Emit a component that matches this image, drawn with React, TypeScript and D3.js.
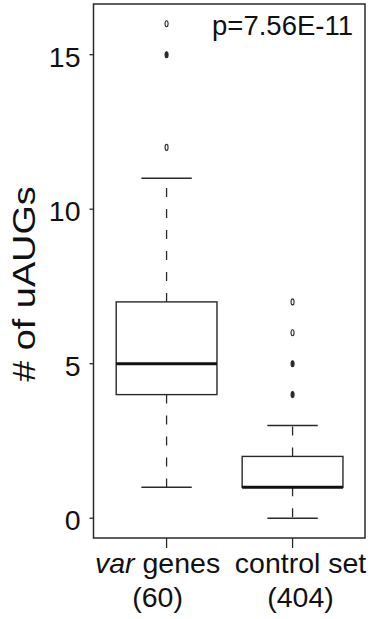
import React from 'react';
import * as d3 from 'd3';

// box statistics
const categories = ['var genes', 'control set'];
const sampleSizes = [60, 404];
const lowerWhisker = [1, 0];
const q1 = [4, 1];
const median = [5, 1];
const q3 = [7, 2];
const upperWhisker = [11, 3];
// repeated values = overlapping points (drawn darker)
const varOutliers = [12, 15, 15, 16];
const controlOutliers = [4, 4, 4, 5, 5, 6, 7];
const yTicks = [0, 5, 10, 15];
const pValue = 'p=7.56E-11';

const W = 371;
const H = 619;
const left = 93.5;
const right = 365;
const top = 4;
const bottom = 538;
const font = '"Liberation Sans", Arial, sans-serif';
const ink = '#2a2a2a';

const App = () => {
  const y = d3.scaleLinear().domain([-0.64, 16.64]).range([bottom, top]);
  const x = d3.scaleLinear().domain([0.42, 2.575]).range([left, right]);
  const boxWex = 0.8;
  const outliers = [varOutliers, controlOutliers];
  const labelShift = [-9, 8];

  return (
    <svg width={W} height={H} style={{ position: 'absolute', left: 0, top: 0, background: '#fff' }}>
      {categories.map((c, i) => {
        const cx = x(i + 1);
        const bx0 = x(i + 1 - boxWex / 2);
        const bx1 = x(i + 1 + boxWex / 2);
        const sx0 = x(i + 1 - boxWex / 4);
        const sx1 = x(i + 1 + boxWex / 4);
        const counts = d3.rollups(outliers[i], (v) => v.length, (d) => d);
        return (
          <g key={c}>
            {/* whiskers */}
            <line x1={cx} x2={cx} y1={y(q3[i])} y2={y(upperWhisker[i])} stroke={ink} strokeWidth={1.3} strokeDasharray="9,12" />
            <line x1={cx} x2={cx} y1={y(q1[i])} y2={y(lowerWhisker[i])} stroke={ink} strokeWidth={1.3} strokeDasharray="9,12" />
            <line x1={sx0} x2={sx1} y1={y(upperWhisker[i])} y2={y(upperWhisker[i])} stroke={ink} strokeWidth={1.4} />
            <line x1={sx0} x2={sx1} y1={y(lowerWhisker[i])} y2={y(lowerWhisker[i])} stroke={ink} strokeWidth={1.4} />
            {/* box */}
            <rect x={bx0} y={y(q3[i])} width={bx1 - bx0} height={y(q1[i]) - y(q3[i])} fill="#fff" stroke={ink} strokeWidth={1.4} />
            <line x1={bx0} x2={bx1} y1={y(median[i])} y2={y(median[i])} stroke="#111" strokeWidth={3} />
            {counts.map(([v, n]) => (
              <ellipse key={v} cx={cx} cy={y(v)} rx={1.5} ry={3} fill={n > 1 ? ink : '#fff'} stroke={ink} strokeWidth={1.1} />
            ))}
            {/* x tick + labels */}
            <line x1={cx} x2={cx} y1={bottom} y2={bottom + 10} stroke={ink} strokeWidth={1.3} />
            <text x={cx + labelShift[i]} y={573} textAnchor="middle" fontFamily={font} fontSize={28.5} fill="#111">
              {i === 0 ? (
                <>
                  <tspan fontStyle="italic">var</tspan> genes
                </>
              ) : (
                c
              )}
            </text>
            <text x={cx + labelShift[i]} y={607} textAnchor="middle" fontFamily={font} fontSize={28.5} fill="#111">
              ({sampleSizes[i]})
            </text>
          </g>
        );
      })}

      {/* frame */}
      <rect x={left} y={top} width={right - left} height={bottom - top} fill="none" stroke={ink} strokeWidth={1.5} />

      {/* y axis ticks */}
      {yTicks.map((t) => (
        <g key={t}>
          <line x1={left - 4} x2={left} y1={y(t)} y2={y(t)} stroke={ink} strokeWidth={1.3} />
          <text x={80.5} y={y(t)} dy="0.42em" textAnchor="end" fontFamily={font} fontSize={28.5} fill="#111">
            {t}
          </text>
        </g>
      ))}

      <text transform={`translate(35,284) rotate(-90) scale(1.22,1)`} textAnchor="middle" fontFamily={font} fontSize={31} fill="#111">
        # of uAUGs
      </text>

      <text x={353} y={35} textAnchor="end" fontFamily={font} fontSize={27.5} fill="#111">
        {pValue}
      </text>
    </svg>
  );
};

export default App;
